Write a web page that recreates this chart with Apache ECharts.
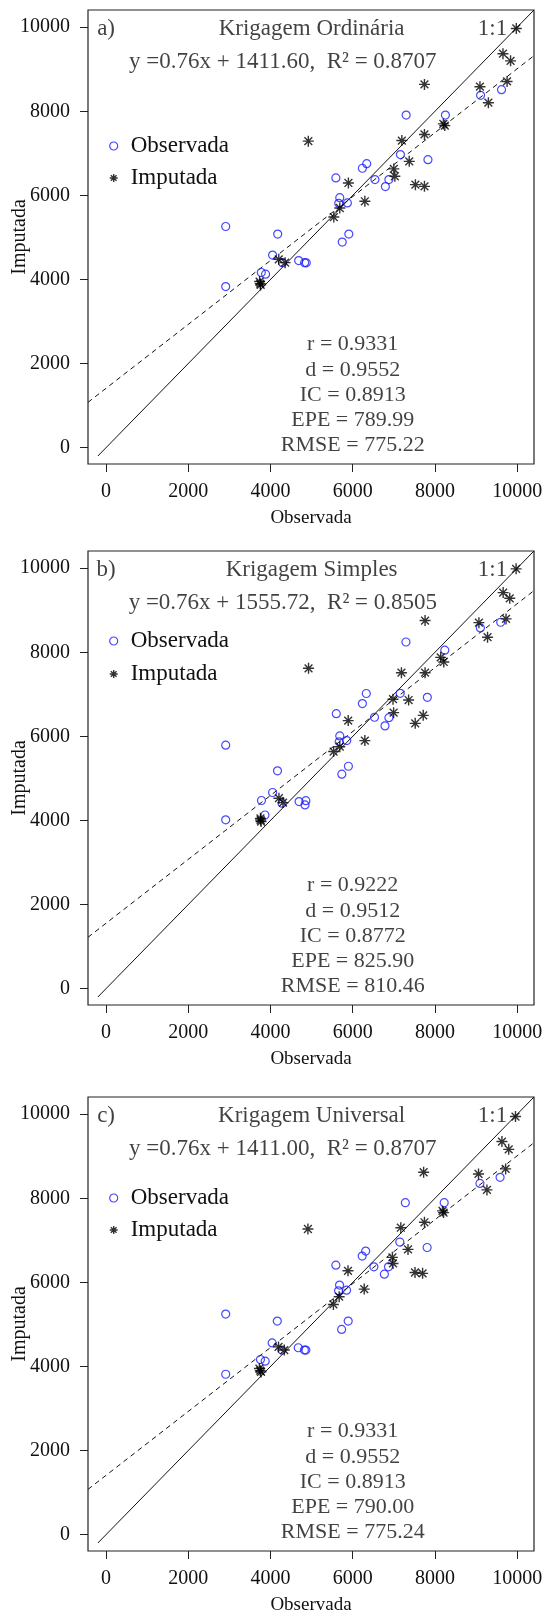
<!DOCTYPE html>
<html><head><meta charset="utf-8">
<script src="https://cdn.jsdelivr.net/npm/echarts@6/dist/echarts.min.js"></script>
<style>html,body{margin:0;padding:0;background:#fff}#c{width:546px;height:1612px}</style>
</head><body><div id="c"></div>
<script>
// ---------- DATA ----------
const panelLetters = ['a)', 'b)', 'c)'];
const panelTitles = ['Krigagem Ordinária', 'Krigagem Simples', 'Krigagem Universal'];
const equations = [
  'y =0.76x + 1411.60,  R² = 0.8707',
  'y =0.76x + 1555.72,  R² = 0.8505',
  'y =0.76x + 1411.00,  R² = 0.8707'
];
const slopes = [0.76, 0.76, 0.76];
const intercepts = [1411.60, 1555.72, 1411.00];
const statsA = ['r = 0.9331', 'd = 0.9552', 'IC = 0.8913', 'EPE = 789.99', 'RMSE = 775.22'];
const statsB = ['r = 0.9222', 'd = 0.9512', 'IC = 0.8772', 'EPE = 825.90', 'RMSE = 810.46'];
const statsC = ['r = 0.9331', 'd = 0.9552', 'IC = 0.8913', 'EPE = 790.00', 'RMSE = 775.24'];
const tickValues = [0, 2000, 4000, 6000, 8000, 10000];
const seriesNames = ['Observada', 'Imputada'];
const xTitle = 'Observada';
const yTitle = 'Imputada';

const obsA = [[2910,5260],[4175,5080],[5590,6415],[5685,5945],[5660,5810],[5870,5820],[5745,4890],[5905,5080],[6235,6645],[6340,6755],[6540,6375],[6795,6210],[6880,6375],[7160,6970],[7300,7910],[7830,6850],[8255,7910],[9110,8380],[9620,8515],[4050,4580],[4685,4450],[4830,4400],[4870,4395],[4290,4400],[3775,4165],[3880,4125],[2910,3830]];
const impA = [[9980,9970],[9655,9370],[9840,9200],[9755,8710],[9095,8585],[9300,8205],[7745,8640],[8205,7700],[8240,7660],[7745,7450],[7195,7305],[7375,6810],[7000,6630],[7025,6455],[7525,6255],[7745,6215],[5895,6295],[6295,5860],[5540,5485],[5685,5700],[4920,7290],[4200,4480],[4355,4400],[3735,3950],[3760,3870],[3750,3900]];

const obsB = [[2910,5790],[4170,5180],[5600,6540],[5685,6010],[5670,5870],[5855,5900],[5735,5100],[5895,5290],[6235,6780],[6330,7020],[6530,6455],[6785,6250],[6880,6445],[7155,7025],[7295,8245],[7815,6930],[8240,8050],[9105,8580],[9600,8715],[4050,4665],[3780,4475],[4695,4450],[4860,4470],[4840,4370],[2910,4015],[3865,4130],[4280,4410]];
const impB = [[9975,9985],[9660,9420],[9820,9285],[9730,8795],[9070,8705],[9280,8360],[7760,8755],[8140,7880],[8215,7770],[7760,7515],[7185,7515],[7360,6865],[6980,6885],[6995,6565],[7520,6310],[7715,6500],[5890,6375],[6295,5900],[5535,5640],[5685,5755],[4925,7620],[4205,4530],[4305,4425],[3755,4050],[3770,3975],[3760,4010]];

const obsC = [[2910,5245],[4165,5080],[5590,6410],[5680,5935],[5655,5800],[5850,5815],[5730,4880],[5890,5080],[6230,6625],[6315,6745],[6515,6370],[6770,6195],[6870,6370],[7145,6960],[7280,7895],[7810,6830],[8225,7895],[9095,8355],[9585,8500],[4040,4560],[4675,4445],[4825,4390],[4860,4390],[4275,4390],[3755,4165],[3870,4125],[2910,3815]];
const impC = [[9960,9945],[9630,9350],[9795,9165],[9720,8700],[9060,8580],[9265,8200],[7725,8620],[8185,7700],[8210,7660],[7745,7430],[7170,7300],[7345,6785],[6965,6595],[6980,6450],[7515,6235],[7700,6215],[5885,6275],[6280,5840],[5530,5475],[5670,5660],[4910,7270],[4195,4465],[4335,4390],[3730,3950],[3770,3870],[3750,3900]];

// annotation anchor positions (data units)
const letterPos = [0, 10000];
const titlePos = [5000, 10000];
const onePos = [9400, 10000];
const eqPos = [4300, 9220];
const statsX = 6000;
const statsY = [2500, 1900, 1300, 700, 100];

// ---------- LAYOUT ----------
const FONT = "'Liberation Serif','Times New Roman',Times,serif";
const gridTops = [10, 551, 1097];
const gridH = 454;
const legendTops = [134, 629, 1186];
const legendGaps = [8, 9, 8];
const XMIN = -440, XMAX = 10410, YMIN = -390, YMAX = 10410;
const STAR = 'path://M0,5L10,5M5,0L5,10M1.46,1.46L8.54,8.54M8.54,1.46L1.46,8.54';
const BLUE = '#1a1aff';
const INK = '#111';

const obsAll = [obsA, obsB, obsC];
const impAll = [impA, impB, impC];
const statsAll = [statsA, statsB, statsC];

const grids = [], xAxes = [], yAxes = [], series = [], legends = [];
const axisCommon = (i, name, nameGap, nameSize) => ({
  gridIndex: i, type: 'value',
  axisLine: {show: false, onZero: false}, splitLine: {show: false},
  axisTick: {show: true, inside: false, length: 8, customValues: tickValues, lineStyle: {color: '#222', width: 1}},
  axisLabel: {customValues: tickValues, margin: 18, fontSize: 20, fontFamily: FONT, color: INK,
    formatter: v => String(v)},
  name: name, nameLocation: 'middle', nameGap: nameGap, nameMoveOverlap: false,
  nameTextStyle: {fontSize: nameSize, fontFamily: FONT, color: INK}
});
const textSeries = (i, data, size) => ({
  type: 'scatter', xAxisIndex: i, yAxisIndex: i, data: data, symbolSize: 1, silent: true,
  itemStyle: {color: 'rgba(0,0,0,0)'}, z: 5,
  label: {show: true, position: 'inside', offset: [0, 2], formatter: p => p.value[2], fontFamily: FONT,
    fontSize: size, color: INK, align: 'center', verticalAlign: 'middle'}
});
for (let i = 0; i < 3; i++) {
  grids.push({left: 88, right: 12, top: gridTops[i], height: gridH, show: true,
    borderColor: '#222', borderWidth: 1.2, backgroundColor: 'transparent', containLabel: false, outerBoundsMode: 'none'});
  xAxes.push(Object.assign(axisCommon(i, xTitle, 45, 19), {min: XMIN, max: XMAX}));
  yAxes.push(Object.assign(axisCommon(i, yTitle, 58, 20), {min: YMIN, max: YMAX}));

  // 1:1 line
  series.push({type: 'line', xAxisIndex: i, yAxisIndex: i, data: [[-200, -200], [XMAX, XMAX]],
    symbol: 'none', clip: true, silent: true, lineStyle: {color: INK, width: 1}, z: 2});
  // regression line
  series.push({type: 'line', xAxisIndex: i, yAxisIndex: i,
    data: [[XMIN, slopes[i] * XMIN + intercepts[i]], [XMAX, slopes[i] * XMAX + intercepts[i]]],
    symbol: 'none', clip: true, silent: true, lineStyle: {color: INK, width: 1, type: [5, 4]}, z: 2});
  // points
  series.push({name: seriesNames[0], type: 'scatter', xAxisIndex: i, yAxisIndex: i, data: obsAll[i],
    symbol: 'circle', symbolSize: 8, silent: true,
    itemStyle: {color: 'rgba(0,0,0,0)', borderColor: BLUE, borderWidth: 1.2}, z: 3});
  series.push({name: seriesNames[1], type: 'scatter', xAxisIndex: i, yAxisIndex: i, data: impAll[i],
    symbol: STAR, symbolSize: 11, silent: true,
    itemStyle: {color: 'rgba(0,0,0,0)', borderColor: '#000', borderWidth: 1.4}, z: 4});
  // annotations
  const head = [
    [letterPos[0], letterPos[1], panelLetters[i]],
    [titlePos[0], titlePos[1], panelTitles[i]],
    [onePos[0], onePos[1], '1:1'],
    [eqPos[0], eqPos[1], equations[i]]
  ];
  const stats = statsAll[i].map((s, k) => [statsX, statsY[k], s]);
  series.push(textSeries(i, head, 23));
  series.push(textSeries(i, stats, 22));

  legends.push({orient: 'vertical', left: 109, top: legendTops[i], itemWidth: 8, itemHeight: 8, padding: 0,
    itemGap: legendGaps[i], selectedMode: false,
    textStyle: {fontFamily: FONT, fontSize: 23, color: INK, lineHeight: 24, padding: [0, 0, 0, 8]},
    data: [
      {name: seriesNames[0], icon: 'circle', itemStyle: {color: 'rgba(0,0,0,0)', borderColor: BLUE, borderWidth: 1.2}},
      {name: seriesNames[1], icon: STAR, itemStyle: {color: 'rgba(0,0,0,0)', borderColor: '#000', borderWidth: 1.4}}
    ]});
}

const chart = echarts.init(document.getElementById('c'), null, {renderer: 'canvas', width: 546, height: 1612});
chart.setOption({
  animation: false,
  backgroundColor: '#fff',
  grid: grids, xAxis: xAxes, yAxis: yAxes, legend: legends, series: series
});
</script>
</body></html>
